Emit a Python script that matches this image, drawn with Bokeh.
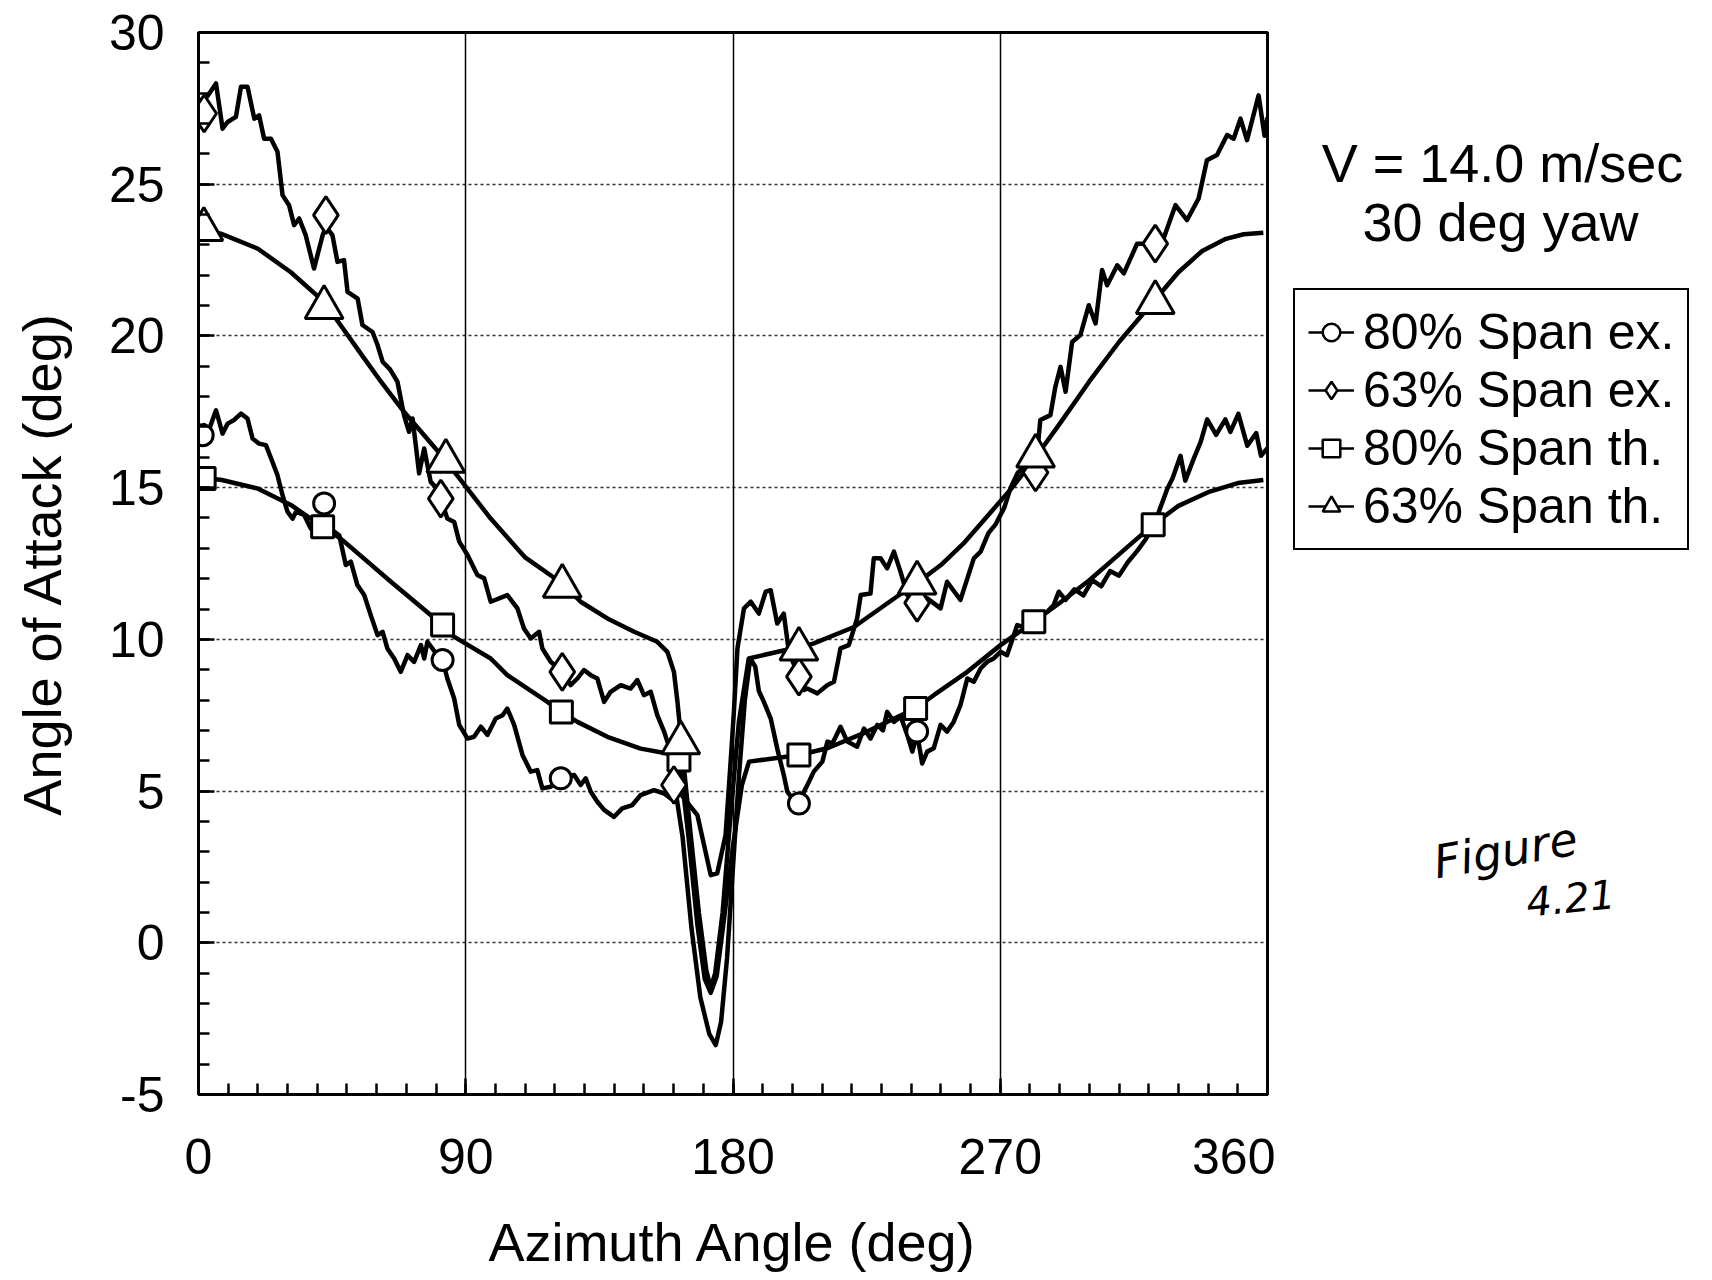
from bokeh.plotting import figure
from bokeh.layouts import row
from bokeh.models import Range1d, FixedTicker, Label, Legend, LegendItem
from bokeh.embed import file_html
from bokeh.resources import INLINE

# ---------------- data ----------------
x_ticks = [0, 90, 180, 270, 360]
x_minor = list(range(0, 361, 10))
y_ticks = [-5, 0, 5, 10, 15, 20, 25, 30]
y_minor = list(range(-5, 31))

# 80% Span ex. (measured)
ex80_x = [0.0, 1.9, 3.5, 5.9, 8.1, 9.8, 12.0, 14.3, 16.5, 18.2, 20.4, 22.7, 24.9, 26.6, 28.3, 30.0,
          31.7, 32.8, 35.6, 37.8, 40.0, 42.3, 45.0, 47.4, 49.6, 51.3, 53.5, 55.8, 58.0, 60.3, 62.0,
          63.6, 65.9, 68.1, 70.4, 72.6, 74.9, 76.0, 77.1, 79.5, 82.2, 83.8, 86.1, 87.8, 90.6, 92.8,
          95.1, 97.3, 100.1, 102.4, 104.0, 106.3, 109.1, 111.9, 114.1, 115.8, 118.6, 122.0, 126.5,
          128.7, 130.4, 132.1, 134.3, 136.6, 139.9, 142.7, 146.1, 148.9, 153.4, 156.8, 159.0, 160.7,
          163.0, 166.0, 169.0, 172.0, 174.2, 176.0, 178.0, 180.0, 182.0, 184.0, 185.8, 187.5, 188.7,
          190.4, 192.7, 194.9, 197.1, 198.3, 201.6, 203.5, 205.6, 207.2, 210.1, 211.8, 213.5, 216.2,
          218.5, 221.8, 224.1, 226.3, 228.6, 230.5, 231.9, 234.2, 236.5, 238.7, 240.4, 242.0, 243.7,
          245.4, 247.6, 249.9, 252.1, 254.3, 256.6, 258.9, 261.1, 263.4, 265.6, 267.8, 270.1, 272.3,
          275.7, 278.0, 281.0, 283.5, 285.8, 288.0, 289.7, 292.0, 295.0, 298.0, 301.0, 304.0, 307.0,
          310.0, 313.0, 316.0, 319.0, 321.8, 326.3, 328.0, 330.7, 332.3, 335.3, 337.5, 339.7, 342.7,
          345.8, 347.5, 350.2, 353.2, 356.2, 357.8, 360.0]
ex80_y = [16.9, 17.06, 16.9, 17.55, 16.78, 17.11, 17.23, 17.44, 17.28, 16.62, 16.45, 16.4, 15.85, 15.41,
          14.75, 14.2, 13.98, 14.2, 14.1, 13.65, 13.7, 13.75, 13.6, 13.43, 12.45, 12.56, 11.79, 11.46,
          10.8, 10.14, 10.25, 9.7, 9.37, 8.93, 9.48, 9.26, 9.81, 9.37, 9.92, 9.6, 9.32, 8.71, 8.05,
          7.18, 6.73, 6.79, 7.12, 6.85, 7.39, 7.5, 7.72, 7.18, 6.19, 5.64, 5.69, 5.09, 5.14, 5.42,
          5.53, 5.2, 5.42, 4.98, 4.65, 4.38, 4.15, 4.43, 4.54, 4.87, 5.03, 4.92, 4.76, 4.98,
          3.5, 0.5, -1.8, -3.0, -3.37, -2.6, -0.5, 2.5, 5.5, 8.0, 9.37, 9.1, 8.3,
          7.94, 7.39, 6.4, 5.53, 4.98, 4.54, 4.9, 5.31, 5.64, 5.97, 6.63, 6.57, 7.12,
          6.63, 6.46, 7.06, 6.73, 7.18, 7.0, 7.61, 7.28, 7.45, 6.85, 6.3, 6.9, 5.91,
          6.3, 6.41, 7.18, 6.96, 7.28, 7.83, 8.71, 8.6, 9.04, 9.26, 9.37, 9.59, 9.48,
          10.47, 10.4, 10.6, 10.8, 10.91, 11.13, 11.57, 11.3, 11.65, 11.45, 11.95, 11.75, 12.25,
          12.1, 12.55, 12.9, 13.3, 13.78, 14.97, 15.3, 16.05, 15.23, 15.99, 16.51, 17.25, 16.74,
          17.25, 16.84, 17.43, 16.38, 16.8, 16.05, 16.3]

# 63% Span ex. (measured)
ex63_x = [0.0, 1.4, 3.0, 5.9, 8.1, 9.8, 12.6, 14.3, 16.5, 18.8, 20.4, 22.1, 24.4, 26.6, 28.3, 30.5,
          32.2, 33.9, 36.1, 38.9, 41.8, 42.9, 45.1, 46.8, 49.0, 50.2, 53.6, 55.2, 58.6, 60.3, 62.0,
          64.5, 67.0, 69.2, 70.9, 72.1, 74.3, 76.0, 78.2, 80.0, 81.6, 83.8, 86.1, 87.8, 90.6, 93.9,
          96.2, 98.4, 104.0, 107.4, 109.6, 111.9, 114.7, 115.8, 118.6, 122.5, 125.3, 127.6, 129.8,
          132.1, 134.3, 136.6, 138.8, 142.2, 145.5, 147.8, 150.0, 152.3, 154.5, 156.8, 159.0, 160.1,
          164.0, 168.0, 172.5, 174.7, 177.5, 179.2, 180.3, 181.5, 183.7, 186.0, 188.7, 191.0, 192.7,
          194.9, 197.1, 198.8, 202.2, 203.9, 205.0, 208.4, 211.7, 214.0, 216.2, 219.0, 221.8, 223.0,
          226.3, 227.4, 229.7, 231.9, 234.2, 236.5, 238.7, 240.9, 243.2, 245.4, 249.9, 252.1, 254.3,
          256.6, 261.1, 263.4, 266.0, 268.5, 271.4, 273.5, 275.9, 279.7, 281.9, 283.5, 286.9, 288.5,
          290.3, 292.0, 294.2, 297.0, 299.8, 302.1, 304.3, 306.0, 309.4, 311.6, 316.1, 322.2, 325.0,
          329.0, 332.9, 336.8, 339.6, 343.0, 346.4, 348.6, 350.9, 353.1, 357.0, 359.0, 360.0]
ex63_y = [27.5, 27.82, 27.9, 28.32, 26.83, 27.05, 27.22, 28.21, 28.21, 27.16, 27.27, 26.5, 26.5, 26.07,
          24.64, 24.31, 23.65, 23.87, 23.32, 22.22, 23.32, 23.6, 23.32, 22.44, 22.5, 21.45, 21.23,
          20.36, 20.13, 19.7, 19.15, 18.9, 18.49, 17.39, 16.84, 17.28, 15.47, 16.29, 15.19, 15.0,
          14.64, 13.98, 13.87, 13.22, 12.78, 12.12, 12.01, 11.24, 11.46, 11.02, 10.36, 10.03, 10.25,
          9.7, 9.26, 8.93, 8.49, 8.71, 8.99, 8.82, 8.71, 7.94, 8.27, 8.49, 8.38, 8.66, 8.16, 8.27,
          7.5, 6.96, 6.3, 5.2, 4.7, 4.21, 2.23, 2.29, 3.55, 5.97, 7.61, 9.7, 11.02, 11.24, 10.85,
          11.57, 11.62, 10.52, 10.85, 9.59, 8.77, 8.33, 8.38, 8.22, 8.49, 8.6, 9.7, 9.81, 10.69,
          11.46, 11.51, 12.67, 12.67, 12.34, 12.89, 12.2, 11.46, 11.24, 11.46, 11.35, 11.02, 11.9,
          11.6, 11.3, 12.67, 12.89, 13.5, 13.8, 14.35, 15.0, 15.49, 15.86, 15.6, 17.23, 17.39, 18.3,
          18.98, 18.16, 19.8, 20.03, 21.01, 20.41, 22.17, 21.67, 22.33, 22.06, 23.04, 23.04, 23.21,
          24.31, 23.82, 24.53, 25.79, 25.96, 26.62, 26.5, 27.16, 26.45, 27.93, 26.6, 27.2]

# 80% Span th. (theory)
th80_x = [0.0, 7.5, 19.9, 31.1, 41.8, 47.9, 64.8, 82.2, 86.0, 98.4, 104.0, 117.5, 122.2, 127.6, 137.7,
          148.9, 157.9, 162.0, 165.0, 168.0, 170.5, 172.5, 174.5, 177.0, 180.0, 183.0, 185.4, 202.2,
          211.8, 225.2, 236.6, 241.5, 247.6, 258.9, 270.1, 281.3, 290.0, 300.0, 310.0, 321.5, 330.0,
          340.0, 350.0, 358.6]
th80_y = [15.32, 15.26, 14.97, 14.43, 13.71, 13.32, 11.9, 10.47, 10.09, 9.37, 8.82, 7.94, 7.61, 7.28,
          6.79, 6.4, 6.24, 6.05, 3.5, 0.6, -1.2, -1.65, -1.1, 0.8, 3.2, 5.2, 5.97, 6.19,
          6.41, 6.96, 7.5, 7.72, 8.16, 8.93, 9.81, 10.58, 11.2, 11.95, 12.8, 13.78, 14.4,
          14.85, 15.15, 15.25]

# 63% Span th. (theory)
th63_x = [0.0, 7.5, 19.9, 31.1, 42.3, 55.8, 61.4, 69.2, 82.7, 98.4, 110.0, 122.5, 128.7, 137.7, 146.7,
          154.5, 157.9, 160.1, 161.3, 162.5, 165.5, 168.5, 171.0, 172.5, 174.0, 176.5, 179.0, 182.0,
          185.3, 202.2, 207.0, 220.6, 237.5, 242.0, 250.0, 258.0, 266.0, 274.0, 281.9, 290.0, 300.0,
          310.0, 322.2, 330.0, 338.0, 346.0, 352.0, 358.6]
th63_y = [23.55, 23.37, 22.88, 22.1, 21.12, 19.26, 18.5, 17.5, 15.96, 13.98, 12.7, 11.84, 11.24, 10.69,
          10.25, 9.92, 9.59, 8.93, 7.94, 6.73, 3.8, 1.0, -0.9, -1.5, -1.0, 1.0, 4.0, 7.3,
          9.37, 9.75, 9.86, 10.4, 11.57, 11.86, 12.45, 13.2, 14.1, 15.0, 16.0, 17.1, 18.5,
          19.8, 21.2, 22.1, 22.8, 23.2, 23.35, 23.4]

# marker positions
mk_ex80_x = [1.4, 42.3, 82.2, 122.0, 202.2, 242.0]
mk_ex80_y = [16.73, 14.48, 9.32, 5.42, 4.59, 6.96]
mk_ex63_x = [1.9, 42.9, 81.6, 122.5, 160.1, 202.2, 242.0, 281.9, 322.2]
mk_ex63_y = [27.33, 23.98, 14.64, 8.93, 5.2, 8.77, 11.2, 15.5, 23.04]
mk_th80_x = [1.9, 41.8, 82.2, 122.2, 161.8, 202.2, 241.5, 281.3, 321.5]
mk_th80_y = [15.3, 13.71, 10.47, 7.61, 6.02, 6.19, 7.72, 10.58, 13.78]
mk_th63_x = [1.8, 42.3, 83.3, 122.5, 162.4, 202.2, 242.0, 281.9, 322.2]
mk_th63_y = [23.51, 20.94, 15.87, 11.75, 6.59, 9.68, 11.86, 16.04, 21.1]

labels = ["80% Span ex.", "63% Span ex.", "80% Span th.", "63% Span th."]
legend_markers = ["circle", "diamond", "square", "triangle"]

FONT = "Liberation Sans"
H = 1278
FT, FB = 32, 1094          # frame top / bottom (page pixels)
W1 = 198 + 1069 + 8
W2 = 430

# ---------------- main plot ----------------
p = figure(width=W1, height=H, x_range=Range1d(0, 360), y_range=Range1d(-5, 30),
           output_backend="svg", toolbar_location=None,
           min_border_left=198, min_border_top=FT, min_border_right=8, min_border_bottom=H - FB)
p.background_fill_color = "white"
p.border_fill_color = "white"
p.outline_line_color = "black"
p.outline_line_width = 3
p.outline_line_alpha = 1.0

xt = FixedTicker(ticks=x_ticks, minor_ticks=x_minor)
yt = FixedTicker(ticks=y_ticks, minor_ticks=y_minor)
p.xaxis.ticker = xt
p.yaxis.ticker = yt
p.xgrid.ticker = xt
p.ygrid.ticker = yt
p.xgrid.grid_line_color = "black"
p.xgrid.grid_line_width = 1.5
p.ygrid.grid_line_color = "black"
p.ygrid.grid_line_width = 1.3
p.ygrid.grid_line_dash = "3 3"
p.ygrid.grid_line_alpha = 0.8

for ax in (p.xaxis[0], p.yaxis[0]):
    ax.axis_line_width = 3
    ax.axis_line_color = "black"
    ax.major_tick_in = 16
    ax.major_tick_out = 0
    ax.minor_tick_in = 11
    ax.minor_tick_out = 0
    ax.major_tick_line_width = 2.5
    ax.minor_tick_line_width = 2.5
    ax.major_tick_line_color = "black"
    ax.minor_tick_line_color = "black"
    ax.major_label_text_font = FONT
    ax.major_label_text_font_size = "50px"
    ax.major_label_text_color = "black"
    ax.axis_label_text_font = FONT
    ax.axis_label_text_font_size = "54px"
    ax.axis_label_text_font_style = "normal"
    ax.axis_label_text_color = "black"

p.xaxis.axis_label = "Azimuth Angle (deg)"
p.yaxis.axis_label = "Angle of Attack (deg)"
p.xaxis.major_label_standoff = 44
p.xaxis.axis_label_standoff = 35
p.yaxis.major_label_standoff = 34
p.yaxis.axis_label_standoff = 34
p.yaxis.major_label_overrides = {-5: "-5"}

# curves
for xs, ys in [(th63_x, th63_y), (th80_x, th80_y), (ex63_x, ex63_y), (ex80_x, ex80_y)]:
    p.line(xs, ys, line_color="black", line_width=4.5, line_join="round")

# markers
mstyle = dict(line_color="black", line_width=3, fill_color="white")
p.scatter(mk_ex80_x, mk_ex80_y, marker="circle", size=21, **mstyle)
p.scatter(mk_th80_x, mk_th80_y, marker="square", size=22, **mstyle)
p.scatter(mk_ex63_x, mk_ex63_y, marker="diamond", size=37, **mstyle)
p.scatter(mk_th63_x, mk_th63_y, marker="triangle", size=38, **mstyle)

# ---------------- side panel (data units = page pixels) ----------------
q = figure(width=W2, height=H, x_range=Range1d(W1, W1 + W2), y_range=Range1d(FB, FT),
           output_backend="svg", toolbar_location=None, x_axis_type=None, y_axis_type=None,
           min_border_left=0, min_border_right=0, min_border_top=FT, min_border_bottom=H - FB)
q.outline_line_color = None
q.background_fill_color = "white"
q.border_fill_color = "white"
q.xgrid.visible = False
q.ygrid.visible = False

OFF = [-100000]   # legend-only renderers keep their single point far outside the view
items = []
for lab, mk in zip(labels, legend_markers):
    lr = q.line(OFF + [-100001], OFF + [-100001], line_color="black", line_width=2.5)
    sr = q.scatter(OFF, OFF, marker=mk, size=10, line_color="black", line_width=2.5, fill_color="white")
    items.append(LegendItem(label=lab, renderers=[lr, sr]))
legend = Legend(items=items, location=(1293 - W1, FB - 550), orientation="vertical",
                label_text_font=FONT, label_text_font_size="50px", label_text_color="black",
                glyph_width=46, glyph_height=44, label_standoff=9, spacing=0, padding=13,
                border_line_color="black", border_line_width=2.5, border_line_alpha=1.0,
                background_fill_color="white", background_fill_alpha=1.0, margin=0)
q.add_layout(legend)

q.add_layout(Label(x=1502, y=162, text="V = 14.0 m/sec",
                   text_font=FONT, text_font_size="54px", text_align="center",
                   text_baseline="alphabetic", text_color="black"))
q.add_layout(Label(x=1500, y=221, text="30 deg yaw",
                   text_font=FONT, text_font_size="54px", text_align="center",
                   text_baseline="alphabetic", text_color="black"))
q.add_layout(Label(x=1505, y=850, text="Figure",
                   text_font="DejaVu Sans", text_font_size="46px", text_font_style="italic",
                   text_align="center", text_baseline="middle", angle=0.17, text_color="black"))
q.add_layout(Label(x=1570, y=897, text="4.21",
                   text_font="DejaVu Sans", text_font_size="40px", text_font_style="italic",
                   text_align="center", text_baseline="middle", angle=0.1, text_color="black"))

layout = row(p, q)
open("out.html", "w").write(file_html(layout, INLINE))
